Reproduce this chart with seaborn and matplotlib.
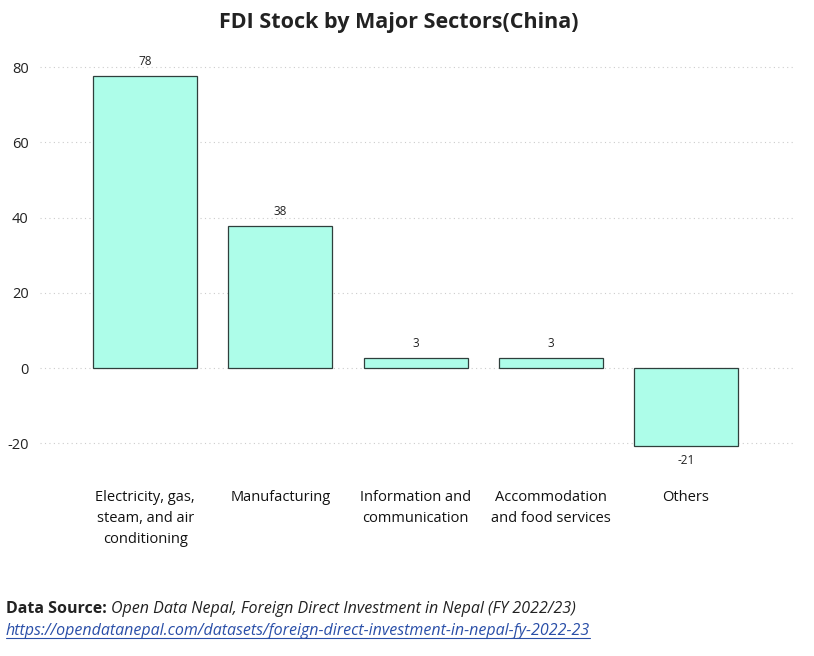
import matplotlib
matplotlib.use("Agg")
import matplotlib.pyplot as plt
import seaborn as sns
import pandas as pd

# Data
sectors = ["Electricity, gas,\nsteam, and air\nconditioning", "Manufacturing",
           "Information and\ncommunication", "Accommodation\nand food services", "Others"]
fdi_stock = [77.6, 37.8, 2.7, 2.6, -20.6]
y_ticks = [-20, 0, 20, 40, 60, 80]

sns.set_theme(style="white")
plt.rcParams['font.family'] = ['Open Sans', 'DejaVu Sans']
plt.rcParams['axes.unicode_minus'] = False

df = pd.DataFrame({"sector": sectors, "value": fdi_stock})

fig = plt.figure(figsize=(8.14, 6.56), dpi=100)
ax = fig.add_axes([0.049, 0.276, 0.928, 0.64])

sns.barplot(data=df, x="sector", y="value", color="#adfde9", saturation=1,
            edgecolor="#2f3f3c", linewidth=0.9, width=0.77, ax=ax, zorder=3)

for i, v in enumerate(fdi_stock):
    off = 2.2 if v >= 0 else -2.2
    ax.text(i, v + off, f"{round(v):d}", ha="center",
            va="bottom" if v >= 0 else "top", fontsize=8.5, color="#222222")

ax.set_ylim(-28.4, 83.2)
ax.set_xlim(-0.78, 4.81)
ax.set_yticks(y_ticks)
ax.yaxis.grid(True, linestyle=(0, (1, 3)), color="#cccccc", linewidth=0.8, zorder=0)
ax.tick_params(axis="y", labelsize=10.5, colors="#222222", length=0, pad=8)
ax.tick_params(axis="x", labelsize=10.5, colors="#111111", length=0, pad=11)
for lab in ax.get_xticklabels():
    lab.set_linespacing(1.55)
ax.set_xlabel("")
ax.set_ylabel("")
for s in ax.spines.values():
    s.set_visible(False)

fig.text(0.49, 0.965, "FDI Stock by Major Sectors(China)", ha="center", va="center",
         fontsize=15.5, fontweight="bold", color="#222222")

t1 = fig.text(0.007, 0.071, "Data Source:", fontsize=11.5, fontweight="bold",
              color="#222222", va="center")
fig.canvas.draw()
r = fig.canvas.get_renderer()
bb = t1.get_window_extent(r)
fig.text((bb.x1 + 5) / fig.bbox.width, 0.071,
         "Open Data Nepal, Foreign Direct Investment in Nepal (FY 2022/23)",
         fontsize=11.5, style="italic", color="#222222", va="center")
t3 = fig.text(0.007, 0.038, "https://opendatanepal.com/datasets/foreign-direct-investment-in-nepal-fy-2022-23",
              fontsize=11.5, style="italic", color="#2a4fa8", va="center")
bb3 = t3.get_window_extent(r)
fig.lines.append(plt.Line2D([bb3.x0 / fig.bbox.width, bb3.x1 / fig.bbox.width], [0.027, 0.027],
                            transform=fig.transFigure, color="#2a4fa8", linewidth=0.8))

fig.savefig("out.png", dpi=100)
